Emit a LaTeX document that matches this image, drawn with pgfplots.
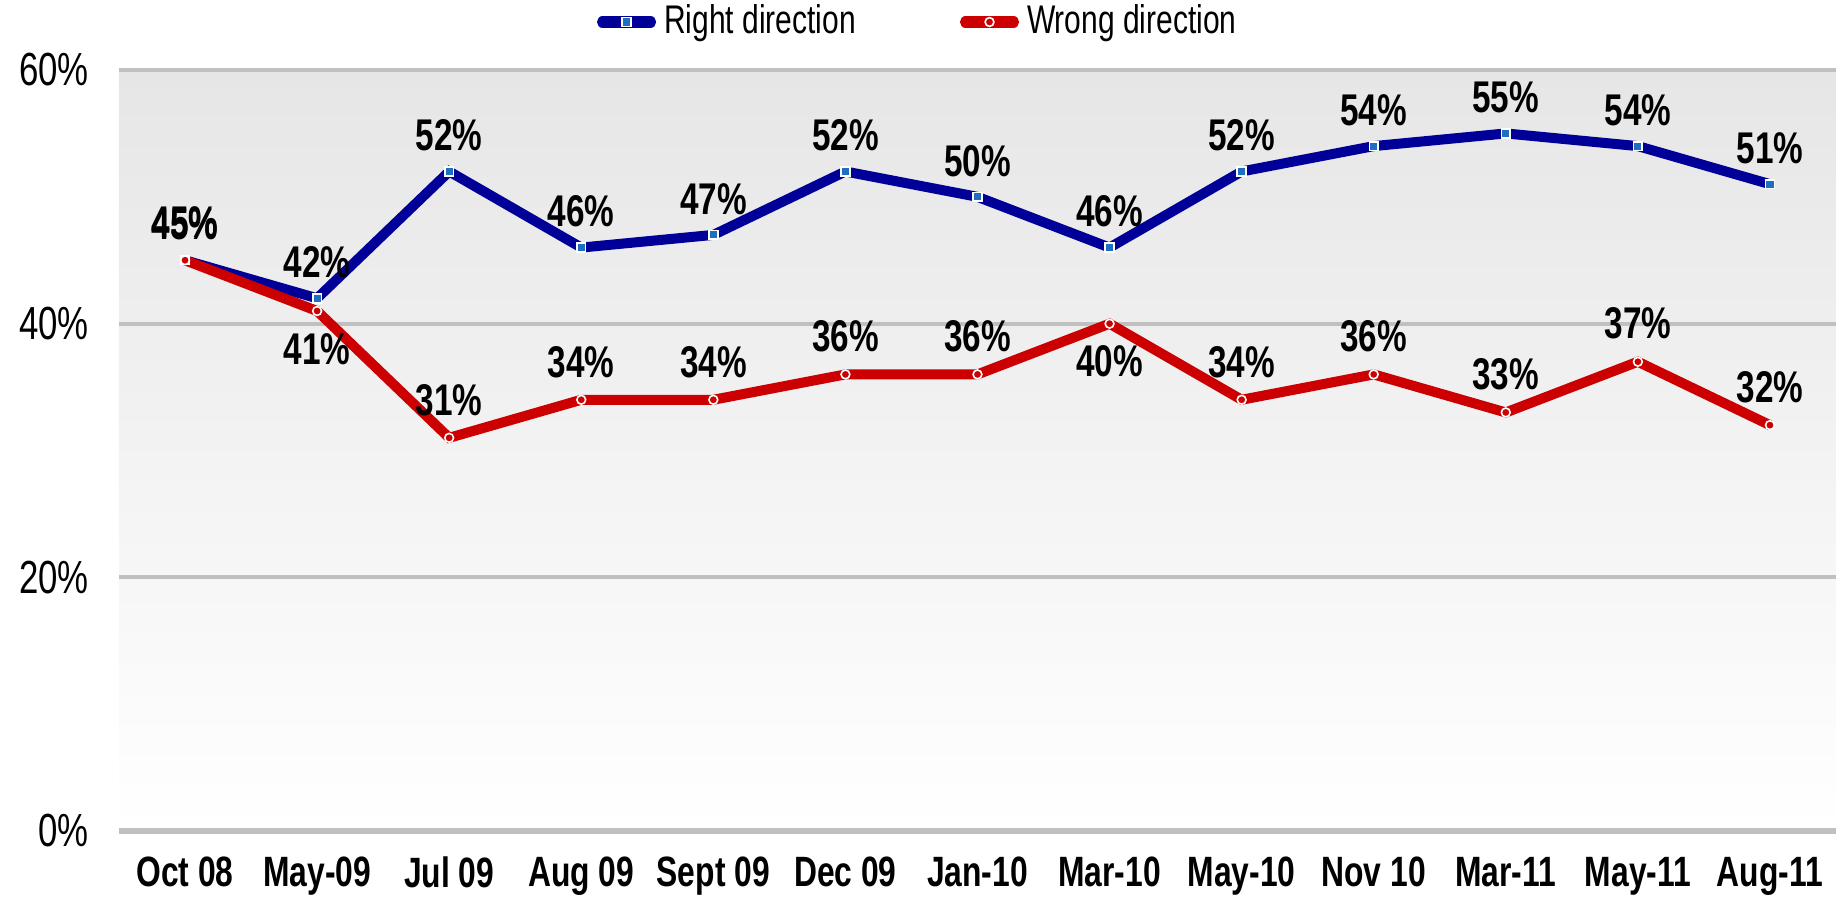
\documentclass[border=0pt]{standalone}
\usepackage{fontspec}
\setmainfont{Liberation Sans}[FakeStretch=0.75]
\usepackage{pgfplots}
\pgfplotsset{compat=1.18}
\usepackage{pgfplotstable}
\definecolor{rdir}{HTML}{000099}
\definecolor{rmark}{HTML}{1F6FC0}
\definecolor{wdir}{HTML}{CC0000}
\definecolor{gridc}{HTML}{C0C0C0}
\definecolor{bgtop}{HTML}{E6E6E6}

% x r w rp wp  (rp/wp: label above = 1, below = -1)
\pgfplotstableread{
x r  w  rp wp
0 45 45 1  1
1 42 41 1  -1
2 52 31 1  1
3 46 34 1  1
4 47 34 1  1
5 52 36 1  1
6 50 36 1  1
7 46 40 1  -1
8 52 34 1  1
9 54 36 1  1
10 55 33 1 1
11 54 37 1 1
12 51 32 1 1
}\trend

\begin{document}
\begin{tikzpicture}
\begin{axis}[
  scale only axis, width=429.25pt, height=190.25pt,
  at={(0,0)}, anchor=south west,
  xmin=-0.5, xmax=12.5, ymin=0, ymax=60,
  xtick=data,
  xticklabels={Oct 08,May-09,Jul 09,Aug 09,Sept 09,Dec 09,Jan-10,Mar-10,May-10,Nov 10,Mar-11,May-11,Aug-11},
  x tick label style={font=\fontsize{10.6}{12}\selectfont\bfseries, yshift=-3pt},
  ytick={0,20,40,60},
  yticklabel={\pgfmathprintnumber{\tick}\%},
  y tick label style={font=\fontsize{11.6}{13}\selectfont, xshift=-4pt},
  /pgf/number format/assume math mode=true,
  major tick length=0pt,
  axis line style={draw=none},
  ymajorgrids, grid style={gridc, line width=1pt},
  axis background/.style={shade, top color=bgtop, bottom color=white},
  clip=false,
  legend columns=2,
  legend style={draw=none, fill=none, at={(0.467,1)}, anchor=center, yshift=12pt,
    font=\fontsize{10}{12}\selectfont,
    /tikz/every even column/.append style={column sep=24pt}},
  legend image code/.code={
    \draw[#1, line width=2.8pt, line cap=round, mark=none] (1.5pt,0pt) -- (13.5pt,0pt);
    \draw[#1, mark repeat=1] plot coordinates {(7.5pt,0pt)};
  },
  nodes near coords={\pgfmathprintnumber{\pgfplotspointmeta}\%},
  every node near coord/.append style={font=\fontsize{11.1}{13}\selectfont\bfseries, anchor=center, black},
]
\draw[gridc, line width=1.4pt] (rel axis cs:0,0) -- (rel axis cs:1,0);
\addplot[rdir, line width=2.5pt, mark=square*, mark size=1.1pt,
  mark options={draw=white, fill=rmark, line width=0.4pt},
  visualization depends on={\thisrow{rp}\as\lp},
  every node near coord/.append style={yshift=\lp*9pt}]
  table[x=x, y=r] {\trend};
\addlegendentry{Right direction}
\addplot[wdir, line width=2.5pt, mark=*, mark size=1.1pt,
  mark options={draw=white, fill=wdir, line width=0.4pt},
  visualization depends on={\thisrow{wp}\as\lp},
  every node near coord/.append style={yshift=\lp*9.5pt}]
  table[x=x, y=w] {\trend};
\addlegendentry{Wrong direction}
\end{axis}
\pgfresetboundingbox
\path[use as bounding box] (-29.75pt,-17.5pt) rectangle (429.25pt,207.75pt);
\end{tikzpicture}
\end{document}
